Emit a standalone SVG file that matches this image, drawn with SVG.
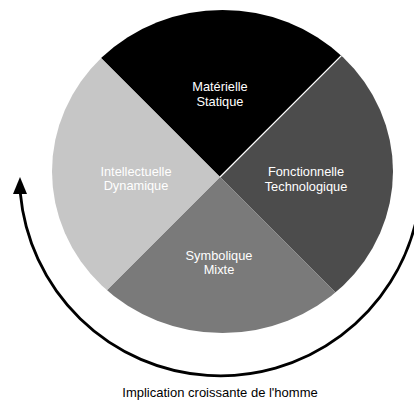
<svg xmlns="http://www.w3.org/2000/svg" width="414" height="401" viewBox="0 0 414 401">
  <style>
    .lbl { font-family: "Liberation Sans", Arial, sans-serif; font-size: 12.8px; fill: #ffffff; text-anchor: middle; }
    .cap { font-family: "Liberation Sans", Arial, sans-serif; font-size: 13px; fill: #000000; text-anchor: middle; }
    .arc { fill: none; stroke: #000000; stroke-width: 2.8; }
  </style>
  <defs>
    <clipPath id="pie">
      <ellipse cx="222.5" cy="171.5" rx="170.5" ry="161.5"/>
    </clipPath>
  </defs>
  <rect width="414" height="401" fill="#ffffff"/>
  <g clip-path="url(#pie)">
    <g id="node-materielle">
      <polygon points="220,177 -30,-73 470,-73" fill="#000000"/>
    </g>
    <g id="node-fonctionnelle">
      <polygon points="220,177 470,-73 470,427" fill="#4c4c4c"/>
    </g>
    <g id="node-symbolique">
      <polygon points="220,177 470,427 -30,427" fill="#7a7a7a"/>
    </g>
    <g id="node-intellectuelle">
      <polygon points="220,177 -30,427 -30,-73" fill="#c6c6c6"/>
    </g>
    <line x1="220" y1="177" x2="470" y2="-73" stroke="#ffffff" stroke-width="1.2"/>
  </g>
  <g id="labels">
    <text class="lbl" x="220" y="91">Matérielle</text>
    <text class="lbl" x="220" y="106">Statique</text>
    <text class="lbl" x="306" y="176">Fonctionnelle</text>
    <text class="lbl" x="306" y="191">Technologique</text>
    <text class="lbl" x="219" y="260">Symbolique</text>
    <text class="lbl" x="219" y="274">Mixte</text>
    <text class="lbl" x="136" y="176">Intellectuelle</text>
    <text class="lbl" x="136" y="190">Dynamique</text>
  </g>
  <g id="connectors">
    <path class="arc" d="M 416.6 218.8 A 201 201 0 0 1 20.3 193"/>
    <polygon points="20,177 13,194 27,194" fill="#000000"/>
  </g>
  <text class="cap" x="220" y="397">Implication croissante de l'homme</text>
</svg>
